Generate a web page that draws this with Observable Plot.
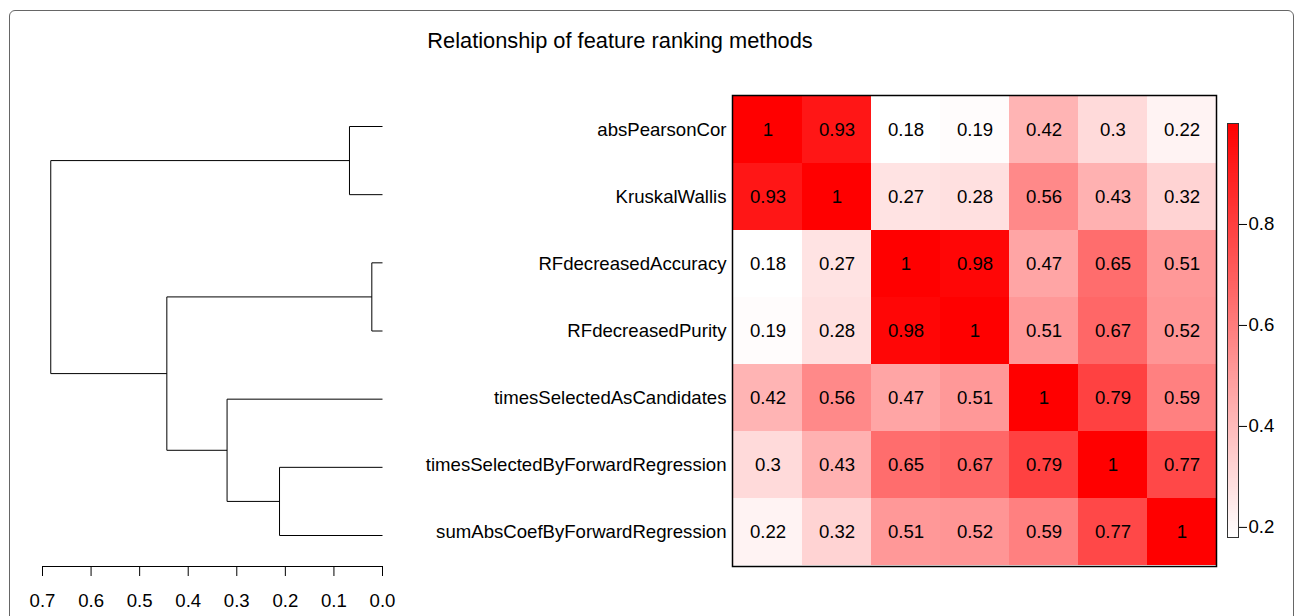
<!DOCTYPE html>
<html><head><meta charset="utf-8">
<script src="https://cdn.jsdelivr.net/npm/d3@7"></script>
<script src="https://cdn.jsdelivr.net/npm/@observablehq/plot@0.6"></script>
<style>
body{margin:0;background:white;}
#wrap{position:relative;width:1295px;height:616px;overflow:hidden;font-family:"Liberation Sans",Arial,Helvetica,sans-serif;}
#wrap svg{position:absolute;left:0;top:0;}
#border{position:absolute;left:9px;top:10px;width:1283px;height:660px;border:1px solid #666;border-radius:6px;}
#title{position:absolute;left:0;width:1240px;top:28px;text-align:center;font-size:21.8px;line-height:26px;color:#000;}
</style></head>
<body>
<div id="wrap"><div id="border"></div><div id="title">Relationship of feature ranking methods</div></div>
<script>
const methods = ["absPearsonCor","KruskalWallis","RFdecreasedAccuracy","RFdecreasedPurity","timesSelectedAsCandidates","timesSelectedByForwardRegression","sumAbsCoefByForwardRegression"];
const corValues = [
  [1, 0.93, 0.18, 0.19, 0.42, 0.3, 0.22],
  [0.93, 1, 0.27, 0.28, 0.56, 0.43, 0.32],
  [0.18, 0.27, 1, 0.98, 0.47, 0.65, 0.51],
  [0.19, 0.28, 0.98, 1, 0.51, 0.67, 0.52],
  [0.42, 0.56, 0.47, 0.51, 1, 0.79, 0.59],
  [0.3, 0.43, 0.65, 0.67, 0.79, 1, 0.77],
  [0.22, 0.32, 0.51, 0.52, 0.59, 0.77, 1]
];
// hclust-style merges: negative = leaf index (1-based), positive = earlier merge
const mergeA = [-3, -1, -6, -5, 1, 2];
const mergeB = [-4, -2, -7, 3, 4, 5];
const mergeHeights = [0.022, 0.068, 0.212, 0.32, 0.444, 0.683];
const dendroTicks = [0, 0.1, 0.2, 0.3, 0.4, 0.5, 0.6, 0.7];
const legendTicks = [0.2, 0.4, 0.6, 0.8];
const colorDomain = [0.18, 1];

const W = 1295, H = 616;
const font = {background:"transparent", overflow:"visible", fontFamily:"'Liberation Sans', Arial, Helvetica, sans-serif", fontSize:"18.6px", color:"black"};
const wrap = document.getElementById("wrap");

// dendrogram segments from merge structure
const nodes = [];
const segs = [];
const pos = id => id < 0 ? {x: 0, y: -id - 1} : nodes[id - 1];
mergeHeights.forEach((h, i) => {
  const a = pos(mergeA[i]), b = pos(mergeB[i]);
  segs.push({x1: a.x, y1: a.y, x2: h, y2: a.y});
  segs.push({x1: b.x, y1: b.y, x2: h, y2: b.y});
  segs.push({x1: h, y1: a.y, x2: h, y2: b.y});
  nodes.push({x: h, y: (a.y + b.y) / 2});
});

const dendro = Plot.plot({
  width: W, height: H,
  marginLeft: 42, marginRight: W - 382, marginTop: 126, marginBottom: 50, insetBottom: 31,
  style: font,
  x: {domain: [0.7, 0], label: null},
  y: {domain: [0, 6], reverse: true, axis: null, label: null},
  marks: [
    Plot.link(segs, {x1: "x1", y1: "y1", x2: "x2", y2: "y2", stroke: "black", strokeWidth: 1}),
    Plot.frame({anchor: "bottom", stroke: "black"}),
    Plot.axisX({anchor: "bottom", ticks: dendroTicks, tickFormat: ".1f", tickSize: 10, tickPadding: 17, stroke: "black", fill: "black", label: null})
  ]
});
wrap.appendChild(dendro);

const cells = [];
corValues.forEach((row, i) => row.forEach((v, j) => cells.push({row: methods[i], col: methods[j], value: v})));

const heat = Plot.plot({
  width: W, height: H,
  marginLeft: 732, marginRight: W - 1216, marginTop: 95, marginBottom: H - 566,
  style: font,
  x: {domain: methods, padding: 0, axis: null, label: null},
  y: {domain: methods, padding: 0, label: null},
  color: {type: "linear", domain: colorDomain, range: ["white", "red"]},
  marks: [
    Plot.cell(cells, {x: "col", y: "row", fill: "value", inset: 0, shapeRendering: "crispEdges"}),
    Plot.text(cells, {x: "col", y: "row", text: d => String(d.value), fill: "black"}),
    Plot.frame({stroke: "black", strokeWidth: 1.5}),
    Plot.axisY({anchor: "left", tickSize: 0, tickPadding: 6, fill: "black", label: null})
  ]
});
wrap.appendChild(heat);

const steps = d3.range(colorDomain[0], colorDomain[1], 0.004);
const legend = Plot.plot({
  width: W, height: H,
  marginLeft: 1227, marginRight: W - 1238, marginTop: 123, marginBottom: H - 537,
  style: font,
  y: {domain: colorDomain, label: null},
  color: {type: "linear", domain: colorDomain, range: ["white", "red"]},
  marks: [
    Plot.rect(steps, {y1: d => d, y2: d => Math.min(d + 0.0045, colorDomain[1]), fill: d => d + 0.002, shapeRendering: "crispEdges"}),
    Plot.frame({stroke: "#333"}),
    Plot.axisY({anchor: "right", ticks: legendTicks, tickFormat: ".1f", tickSize: 8, tickPadding: 2, stroke: "black", fill: "black", label: null})
  ]
});
wrap.appendChild(legend);
</script>
</body></html>
